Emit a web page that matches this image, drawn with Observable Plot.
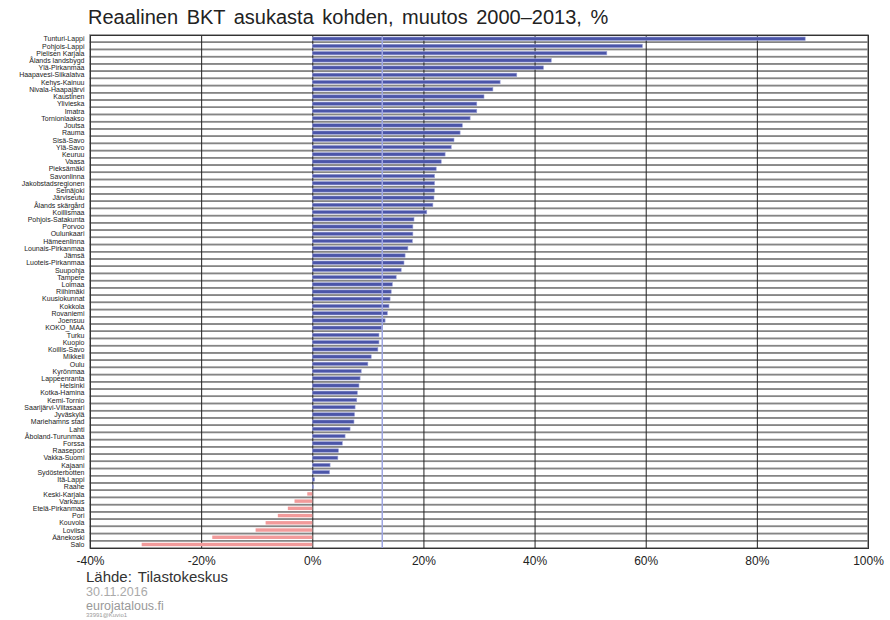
<!DOCTYPE html>
<html>
<head>
<meta charset="utf-8">
<script src="https://cdn.jsdelivr.net/npm/d3@7"></script>
<script src="https://cdn.jsdelivr.net/npm/@observablehq/plot@0.6"></script>
<style>
  body { margin: 0; background: #fff; font-family: "Liberation Sans", Arial, sans-serif; }
  #wrap { position: relative; width: 890px; height: 620px; }
  #title { height: 34px; line-height: 34px; padding-left: 88px; font-size: 20px; color: #222; word-spacing: 3px; }
  #chart svg { display: block; }
  .foot { position: absolute; left: 86px; white-space: nowrap; }
</style>
</head>
<body>
<div id="wrap">
  <div id="title">Reaalinen BKT asukasta kohden, muutos 2000–2013, %</div>
  <div id="chart"></div>
  <div class="foot" style="top:568px;font-size:15px;color:#333;word-spacing:2px;">Lähde: Tilastokeskus</div>
  <div class="foot" style="top:585px;font-size:12.5px;color:#aaa;">30.11.2016</div>
  <div class="foot" style="top:599px;font-size:12.5px;color:#999;">eurojatalous.fi</div>
  <div class="foot" style="top:612px;font-size:6px;color:#999;">33991@Kuvio1</div>
</div>
<script>
const regions = [
  "Tunturi-Lappi","Pohjois-Lappi","Pielisen Karjala","Ålands landsbygd","Ylä-Pirkanmaa",
  "Haapavesi-Siikalatva","Kehys-Kainuu","Nivala-Haapajärvi","Kaustinen","Ylivieska",
  "Imatra","Tornionlaakso","Joutsa","Rauma","Sisä-Savo","Ylä-Savo","Keuruu","Vaasa",
  "Pieksämäki","Savonlinna","Jakobstadsregionen","Seinäjoki","Järviseutu","Ålands skärgård",
  "Koillismaa","Pohjois-Satakunta","Porvoo","Oulunkaari","Hämeenlinna","Lounais-Pirkanmaa",
  "Jämsä","Luoteis-Pirkanmaa","Suupohja","Tampere","Loimaa","Riihimäki","Kuusiokunnat",
  "Kokkola","Rovaniemi","Joensuu","KOKO_MAA","Turku","Kuopio","Koillis-Savo","Mikkeli",
  "Oulu","Kyrönmaa","Lappeenranta","Helsinki","Kotka-Hamina","Kemi-Tornio",
  "Saarijärvi-Viitasaari","Jyväskylä","Mariehamns stad","Lahti","Åboland-Turunmaa",
  "Forssa","Raasepori","Vakka-Suomi","Kajaani","Sydösterbotten","Itä-Lappi","Raahe",
  "Keski-Karjala","Varkaus","Etelä-Pirkanmaa","Pori","Kouvola","Loviisa","Äänekoski","Salo"
];
const changes = [
  88.7, 59.4, 53.0, 43.0, 41.6,
  36.8, 33.8, 32.5, 30.9, 29.6,
  29.6, 28.4, 27.0, 26.6, 25.5, 25.0, 23.9, 23.2,
  22.3, 22.0, 22.0, 22.0, 21.9, 21.7,
  20.6, 18.3, 18.1, 18.1, 18.0, 17.2,
  16.7, 16.5, 16.0, 15.1, 14.4, 14.2, 14.0,
  13.8, 13.5, 13.1, 12.5, 12.0, 12.0, 11.8, 10.6,
  10.0, 8.8, 8.6, 8.4, 8.1, 8.0,
  7.7, 7.6, 7.5, 6.8, 5.9,
  5.4, 4.7, 4.6, 3.2, 3.1, 0.4, 0.2,
  -0.9, -3.2, -4.4, -6.2, -8.4, -10.2, -18.0, -30.7
];
const xTicks = [-40, -20, 0, 20, 40, 60, 80, 100];
const totalName = "KOKO_MAA";

const data = regions.map((name, i) => ({name, value: changes[i]}));
const total = data.find(d => d.name === totalName).value;

const chart = Plot.plot({
  width: 890,
  height: 538,
  marginTop: 1,
  marginLeft: 90,
  marginRight: 22,
  marginBottom: 24,
  style: {fontFamily: "'Liberation Sans', Arial, sans-serif", color: "#222", background: "#fff"},
  x: {domain: [-40, 100], ticks: xTicks, tickFormat: d => d + "%", tickSize: 0, tickPadding: 8, label: null},
  y: {domain: regions, padding: 0, round: false, tickSize: 0, tickPadding: 6, label: null},
  marks: [
    Plot.barX(data, {x1: -40, x2: 100, y: "name", fill: "none", stroke: "#858585", strokeWidth: 1.5}),
    Plot.ruleX(xTicks, {stroke: "#222", strokeWidth: 1}),
    Plot.barX(data.filter(d => d.value >= 0), {x: "value", y: "name", fill: "#4b55a8", stroke: "#9aa0d6", strokeWidth: 0.6, insetTop: 2, insetBottom: 1.8}),
    Plot.barX(data.filter(d => d.value < 0), {x: "value", y: "name", fill: "#f29a9a", insetTop: 2, insetBottom: 1.8}),
    Plot.ruleX([total], {stroke: "#9ea6e2", strokeWidth: 1.5}),
    Plot.frame({stroke: "#333", strokeWidth: 1}),
    Plot.axisX({ticks: xTicks, tickFormat: d => d + "%", tickSize: 0, tickPadding: 8, fontSize: 12, fill: "#222", label: null}),
    Plot.axisY({tickSize: 0, tickPadding: 6, fontSize: 7, fill: "#222", label: null})
  ]
});
document.getElementById("chart").appendChild(chart);
</script>
</body>
</html>
